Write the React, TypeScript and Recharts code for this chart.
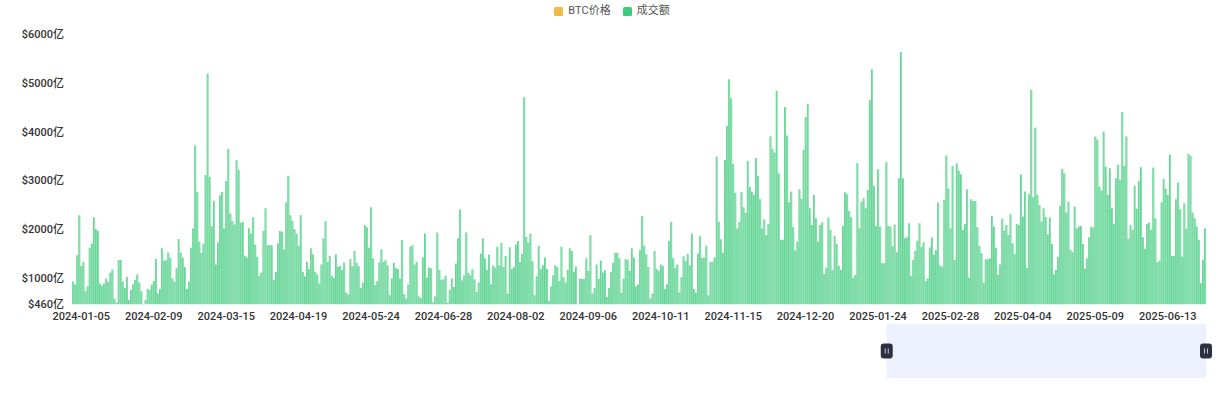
import { Bar, BarChart, Brush, Legend, XAxis, YAxis } from "recharts";

// daily trading volume, unit: 亿 USD, one value per day from START_DATE
const START_DATE = "2024-01-01";

const volumes: number[] = [
  930, 870, 1470, 2290, 1250, 1335, 730, 835, 1620, 1710,
  2245, 2005, 1965, 890, 845, 890, 995, 925, 1115, 1180,
  585, 500, 1370, 1370, 925, 800, 1025, 550, 755, 875,
  960, 1075, 910, 730, 470, 550, 775, 755, 870, 940,
  1390, 685, 775, 1610, 1355, 1370, 1525, 1415, 995, 925,
  1200, 1800, 1525, 1415, 1230, 775, 925, 1620, 2020, 3715,
  2770, 1745, 1520, 1710, 3110, 5185, 3075, 2065, 2585, 1280,
  1730, 2700, 2770, 2020, 2990, 3645, 2325, 2170, 2100, 3415,
  3215, 2135, 2155, 1460, 1425, 2020, 1915, 2245, 1690, 1440,
  1050, 1115, 1970, 2430, 1675, 1675, 1675, 960, 1130, 1710,
  1965, 1950, 1590, 2550, 3095, 2290, 2175, 2005, 1910, 1665,
  2290, 1130, 1040, 1335, 1185, 1610, 1485, 1130, 1075, 890,
  1280, 1815, 2170, 1335, 1460, 1050, 1005, 1490, 1230, 1250,
  1165, 1320, 705, 665, 1390, 1245, 1555, 1315, 1245, 800,
  905, 2085, 2040, 1620, 2450, 1405, 860, 940, 1320, 1590,
  1335, 1370, 1265, 650, 995, 1315, 1200, 1185, 995, 1780,
  670, 585, 870, 1645, 1675, 1280, 1335, 630, 595, 1425,
  1915, 1015, 1220, 1200, 500, 630, 1935, 1165, 960, 975,
  1050, 500, 755, 995, 820, 1300, 1815, 2405, 950, 1060,
  1935, 1110, 1060, 1180, 975, 720, 910, 1505, 1815, 1405,
  1165, 1485, 875, 1265, 1220, 1645, 1265, 1725, 1230, 1460,
  685, 1630, 1185, 1225, 1690, 1760, 1335, 1500, 4705, 1850,
  1730, 1915, 1350, 650, 1040, 1665, 1185, 1265, 1425, 1185,
  535, 835, 1060, 1265, 1230, 940, 1645, 1025, 910, 1165,
  1610, 1555, 1130, 1240, 470, 995, 980, 980, 1405, 1150,
  1880, 685, 800, 1280, 980, 1360, 1115, 1160, 615, 800,
  1130, 1315, 1520, 1520, 1405, 705, 995, 1390, 1370, 1150,
  1610, 1425, 835, 870, 1575, 2270, 1665, 1490, 1230, 585,
  685, 1555, 1185, 1150, 1280, 1250, 775, 875, 1765, 2155,
  1405, 1215, 1280, 705, 1025, 1450, 1355, 1495, 1265, 1915,
  775, 705, 1505, 1860, 1415, 1415, 1665, 650, 1335, 1335,
  1425, 3490, 2155, 1795, 1520, 3420, 4115, 5075, 4685, 3340,
  2750, 2020, 2155, 2770, 2450, 2340, 3400, 2870, 2775, 2705,
  3460, 3095, 2615, 2020, 2205, 1885, 2110, 3900, 3650, 3575,
  4840, 3150, 1785, 1785, 4505, 3920, 2555, 2775, 2040, 1565,
  1750, 2820, 2625, 3630, 4300, 4570, 2430, 2090, 2705, 2225,
  1750, 2090, 2145, 1085, 1215, 2240, 1990, 1170, 1870, 1700,
  1255, 1170, 2070, 2760, 2720, 2375, 2250, 1010, 1065, 3355,
  2020, 2570, 2635, 2430, 2805, 4650, 5280, 2890, 2070, 3230,
  2055, 1305, 1305, 3375, 2070, 2055, 1660, 2100, 1530, 3045,
  5630, 3045, 1815, 1835, 2125, 1045, 1375, 1555, 1765, 2125,
  1645, 1735, 940, 995, 1625, 1830, 1475, 1575, 2550, 1255,
  1235, 2605, 3510, 2840, 2020, 3300, 1375, 3355, 3200, 3130,
  1990, 2110, 2820, 1015, 2615, 2580, 2580, 2040, 1660, 1510,
  905, 1385, 1385, 1405, 2275, 2055, 1615, 1065, 1285, 2215,
  1970, 2090, 1885, 2310, 1715, 1495, 2110, 2090, 3130, 2260,
  2775, 1215, 2725, 4860, 2655, 4085, 2705, 2500, 2160, 2430,
  2250, 1900, 2240, 1700, 1080, 1170, 1440, 2480, 3240, 3150,
  2345, 2570, 1575, 1530, 2465, 2020, 2055, 2070, 1700, 1200,
  1405, 1835, 2055, 2035, 3900, 3835, 2875, 2795, 4005, 3285,
  2705, 3250, 2430, 2110, 3045, 3320, 3015, 4400, 3300, 3900,
  1805, 2090, 1990, 2890, 2420, 2990, 3270, 1835, 1600, 2110,
  2140, 1990, 3265, 2225, 1325, 1350, 2555, 3030, 2830, 2705,
  3525, 1455, 1460, 2615, 2960, 2410, 1440, 2535, 2010, 3540,
  3505, 2345, 2225, 2055, 1785, 895, 1375, 2020,
];

const tickDates = [
  "2024-01-05", "2024-02-09", "2024-03-15", "2024-04-19", "2024-05-24",
  "2024-06-28", "2024-08-02", "2024-09-06", "2024-10-11", "2024-11-15",
  "2024-12-20", "2025-01-24", "2025-02-28", "2025-04-04", "2025-05-09",
  "2025-06-13",
];

const yTicks = [460, 1000, 2000, 3000, 4000, 5000, 6000];

const legendItems = [
  { name: "BTC价格", color: "#f0ba45" },
  { name: "成交额", color: "#3ccd7c" },
];

// zoom window start (index into the daily rows)
const brushStart = 393;

function buildDates(start: string, count: number) {
  const t0 = Date.parse(start + "T00:00:00Z");
  const out: string[] = [];
  for (let i = 0; i < count; i++) {
    out.push(new Date(t0 + i * 86400000).toISOString().slice(0, 10));
  }
  return out;
}

const dates = buildDates(START_DATE, volumes.length);
const rows = volumes.map((v, i) => ({ date: dates[i], volume: v }));

const tickStyle = { fontSize: 11, fill: "#333", fontWeight: 500 };

function LegendBox() {
  return (
    <div
      style={{
        height: 34,
        boxSizing: "border-box",
        paddingTop: 5,
        display: "flex",
        justifyContent: "center",
        alignItems: "flex-start",
        gap: 12,
        fontSize: 11,
        color: "#555",
      }}
    >
      {legendItems.map((it) => (
        <span
          key={it.name}
          style={{ display: "inline-flex", alignItems: "center", gap: 5, lineHeight: "12px" }}
        >
          <span
            style={{
              display: "inline-block",
              width: 9,
              height: 9,
              borderRadius: 1.5,
              background: it.color,
            }}
          />
          {it.name}
        </span>
      ))}
    </div>
  );
}

function Handle(props: any) {
  const cx = props.x + (props.width || 0) / 2;
  const cy = props.y + props.height / 2;
  return (
    <g>
      <rect x={cx - 6} y={cy - 7.5} width={12} height={15} rx={3} fill="#2c3040" />
      <line x1={cx - 1.5} x2={cx - 1.5} y1={cy - 2.5} y2={cy + 2.5} stroke="#c8cbd6" strokeWidth={1} />
      <line x1={cx + 1.5} x2={cx + 1.5} y1={cy - 2.5} y2={cy + 2.5} stroke="#c8cbd6" strokeWidth={1} />
    </g>
  );
}

export default function App() {
  return (
    <div
      style={{
        position: "absolute",
        left: 0,
        top: 0,
        width: 1224,
        height: 405,
        background: "#fff",
        fontFamily: "Roboto, 'Noto Sans CJK SC', sans-serif",
      }}
    >
      <style>{`.brush-wrap .recharts-brush > rect:not(.recharts-brush-slide){stroke:none}`}</style>
      <BarChart
        width={1224}
        height={340}
        data={rows}
        margin={{ top: 0, right: 18, bottom: 5.5, left: 8 }}
        barCategoryGap="10%"
      >
        <defs>
          <linearGradient id="volFill" x1="0" y1="0" x2="1" y2="0">
            <stop offset="0%" stopColor="#3cc978" />
            <stop offset="45%" stopColor="#84deab" />
            <stop offset="100%" stopColor="#84deab" />
          </linearGradient>
        </defs>
        <Legend
          verticalAlign="top"
          align="center"
          content={() => <LegendBox />}
          wrapperStyle={{ left: 0, top: 0, width: 1224 }}
        />
        <XAxis
          dataKey="date"
          ticks={tickDates}
          interval={0}
          height={30}
          tickLine={false}
          axisLine={false}
          tick={tickStyle}
        />
        <YAxis
          domain={[460, 6000]}
          ticks={yTicks}
          interval={0}
          width={64}
          allowDataOverflow
          tickLine={false}
          axisLine={false}
          tick={tickStyle}
          tickFormatter={(v) => `$${v}亿`}
        />
        <Bar dataKey="volume" name="成交额" fill="url(#volFill)" isAnimationActive={false} />
      </BarChart>
      <div className="brush-wrap" style={{ position: "absolute", left: 0, top: 0 }}>
        <BarChart width={1224} height={405} data={rows} margin={{ top: 0, right: 18, bottom: 0, left: 72 }}>
          <Brush
            dataKey="date"
            x={72}
            y={324}
            width={1134}
            height={54}
            startIndex={brushStart}
            endIndex={rows.length - 1}
            travellerWidth={0}
            stroke="#a3b6f6"
            fill="transparent"
            traveller={(p: any) => <Handle {...p} />}
          />
        </BarChart>
      </div>
    </div>
  );
}
